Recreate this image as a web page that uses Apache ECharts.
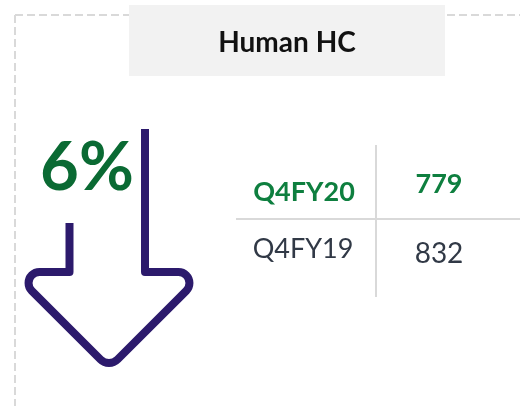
<!DOCTYPE html>
<html>
<head>
<meta charset="utf-8">
<script src="https://cdn.jsdelivr.net/npm/echarts@6/dist/echarts.min.js"></script>
<style>
html,body{margin:0;padding:0;background:#fff;}
#chart{width:520px;height:406px;}
</style>
</head>
<body>
<div id="chart"></div>
<script>
// ---- data ----
const titleText = 'Human HC';
const periods = ['Q4FY20', 'Q4FY19'];
const headcount = [779, 832];
const changeLabel = Math.round((headcount[1] - headcount[0]) / headcount[1] * 100) + '%';

const FONT = 'Lato, "Noto Sans", sans-serif';
const GREEN_DARK = '#0a6a33';
const GREEN = '#0e7f3f';
const GRAY_TEXT = '#313946';
const LINE = '#d9d9d9';
const ARROW = '#2c1a6c';

const chart = echarts.init(document.getElementById('chart'), null, {renderer: 'canvas'});

const arrowPath = 'M69.5 223 L69.5 272 L39.6 272 A11 11 0 0 0 31.8 290.8 ' +
  'L100.5 359.5 A12 12 0 0 0 117.5 359.5 L186.2 290.8 A11 11 0 0 0 178.4 272 ' +
  'L145 272 L145 129';

function txt(x, y, s, size, weight, color) {
  return {
    type: 'text', x: x, y: y, z: 10,
    style: {text: s, font: weight + ' ' + size + 'px ' + FONT, fill: color,
      align: 'center', verticalAlign: 'middle'}
  };
}

chart.setOption({
  backgroundColor: '#fff',
  animation: false,
  graphic: [
    // dashed frame
    {type: 'line', shape: {x1: 15, y1: 15, x2: 520, y2: 15},
      style: {stroke: LINE, lineWidth: 2, lineDash: [8, 4]}},
    {type: 'line', shape: {x1: 15, y1: 15, x2: 15, y2: 406},
      style: {stroke: LINE, lineWidth: 2, lineDash: [8, 4]}},
    // title box
    {type: 'rect', shape: {x: 129, y: 5, width: 316, height: 71},
      style: {fill: '#f2f2f2'}, z: 5},
    txt(287, 43, titleText, 28, 'bold', '#111111'),
    txt(87, 168, changeLabel, 67, 'bold', GREEN_DARK),
    // table lines
    {type: 'line', shape: {x1: 376, y1: 145, x2: 376, y2: 297},
      style: {stroke: LINE, lineWidth: 2}},
    {type: 'line', shape: {x1: 236, y1: 219, x2: 520, y2: 219},
      style: {stroke: LINE, lineWidth: 2}},
    // table cells
    txt(304, 192, periods[0], 27, 'bold', GREEN),
    txt(439, 184, String(headcount[0]), 27, 'bold', GREEN),
    txt(303, 249, periods[1], 27, 'normal', GRAY_TEXT),
    txt(439, 254, String(headcount[1]), 28, 'normal', GRAY_TEXT)
  ],
  series: [{
    type: 'custom',
    coordinateSystem: 'none',
    silent: true,
    data: [0],
    renderItem: function () {
      return {
        type: 'path',
        shape: {pathData: arrowPath},
        style: {fill: null, stroke: ARROW, lineWidth: 8, lineJoin: 'round'}
      };
    }
  }]
});
</script>
</body>
</html>
